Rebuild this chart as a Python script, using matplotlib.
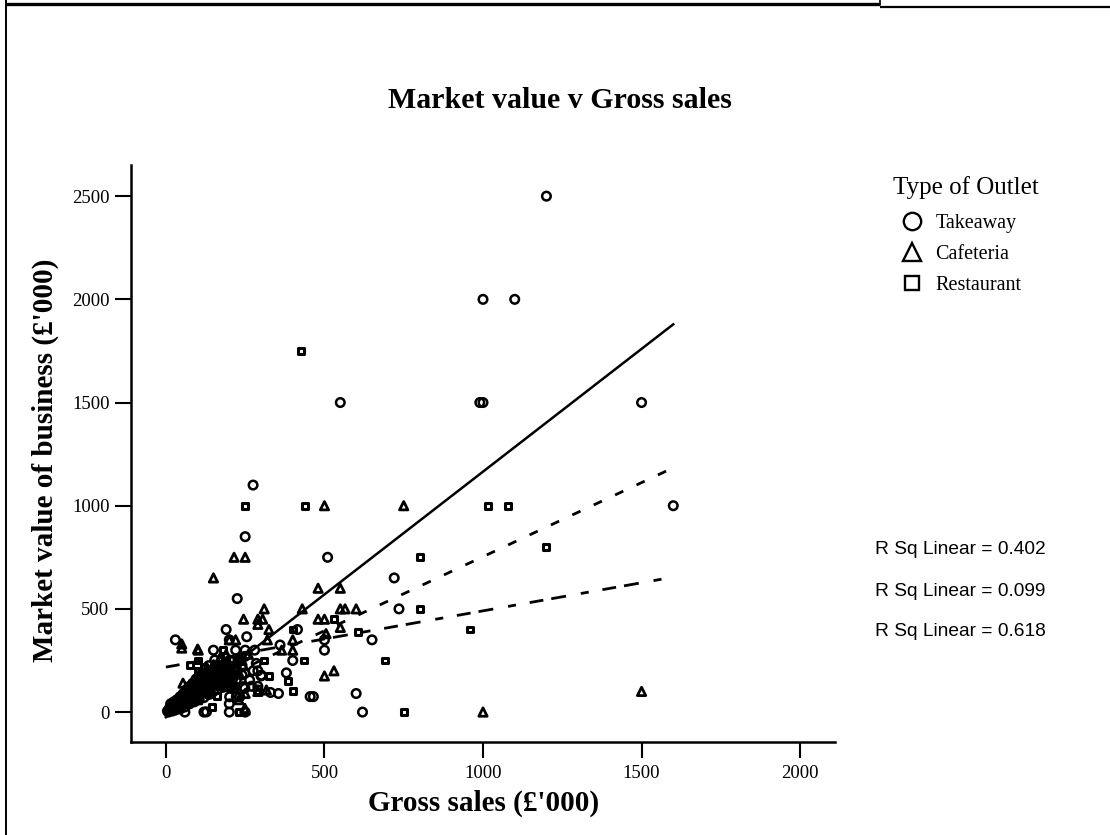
import numpy as np
import matplotlib
matplotlib.use('Agg')
from matplotlib import pyplot as plt
from matplotlib.lines import Line2D

plt.rcParams['font.family'] = ['Liberation Serif', 'DejaVu Serif']
plt.rcParams['lines.scale_dashes'] = False

# gross sales (x) and market value (y), £'000, one pair of lists per outlet type
takeaway_x = [1200, 1000, 1100, 550, 990, 1000, 1500, 1600, 275, 250, 510, 720, 225, 735, 415,
              190, 255, 200, 30, 150, 220, 250, 280, 360, 500, 500, 650, 400, 380, 275,
              290, 300, 270, 290, 330, 355, 455, 465, 600, 620, 60, 120, 200, 250, 200,
              154, 160, 201, 233, 128, 170, 97, 222, 264, 249, 201, 243, 212, 249, 290,
              201, 222, 233, 128, 285, 301,
              5, 8, 10, 12, 15, 18, 20, 20, 22, 25, 28, 30, 32, 35, 38, 40, 42, 45, 48, 50,
              52, 55, 58, 60, 62, 65, 68, 70, 72, 75, 78, 80, 85, 88, 90, 95, 100, 105, 110,
              115, 120, 125, 130, 135, 140, 145, 150, 155, 160, 165, 170, 175, 180, 190, 200,
              210, 220, 230, 240, 250,
              15, 25, 35, 45, 55, 65, 75, 85, 95, 105, 115, 125, 135, 30, 45, 60, 75, 90,
              105, 120, 135, 150, 165, 180, 195, 210, 225, 240, 190, 175, 160, 145, 130,
              115, 100, 85, 70, 55, 40]
takeaway_y = [2500, 2000, 2000, 1500, 1500, 1500, 1500, 1000, 1100, 850, 750, 650, 550, 500, 400,
              400, 365, 350, 350, 300, 300, 300, 300, 325, 350, 300, 350, 250, 190, 200,
              200, 175, 125, 125, 95, 90, 75, 75, 90, 0, 0, 0, 0, 0, 40,
              252, 203, 252, 252, 188, 195, 155, 155, 155, 188, 123, 123, 131, 115, 107,
              74, 74, 74, 1, 236, 179,
              5, 0, 15, 10, 20, 12, 25, 5, 30, 18, 35, 22, 40, 28, 45, 30, 50, 38, 60, 45,
              35, 65, 50, 75, 55, 80, 60, 90, 70, 100, 80, 110, 90, 120, 75, 130, 110, 140, 120,
              150, 100, 160, 140, 175, 120, 190, 160, 200, 130, 210, 180, 225, 150, 240, 200,
              250, 180, 260, 220, 270,
              40, 50, 60, 75, 90, 110, 125, 140, 160, 175, 190, 210, 225, 10, 15, 25, 40, 50,
              60, 70, 85, 100, 110, 120, 140, 160, 200, 180, 180, 160, 150, 130, 110,
              95, 80, 65, 55, 40, 25]

cafeteria_x = [500, 750, 215, 250, 150, 480, 550, 310, 430, 550, 565, 600, 245, 290, 305,
               290, 480, 500, 550, 325, 505, 400, 200, 220, 50, 50, 100, 320, 365, 400,
               500, 530, 290, 1500, 1000, 250, 102, 243, 317, 249, 54,
               20, 40, 60, 80, 100, 120, 140, 160, 180, 200, 220, 60, 90, 110, 130, 150,
               170, 190, 240, 260, 200, 230, 250, 215, 230,
               30, 70, 110, 150, 190, 100, 140, 180, 160, 210]
cafeteria_y = [1000, 1000, 750, 750, 650, 600, 600, 500, 500, 500, 500, 500, 450, 450, 450,
               425, 450, 450, 410, 400, 380, 350, 350, 350, 330, 310, 305, 350, 300, 300,
               175, 200, 100, 100, 0, 10, 300, 228, 107, 18, 140,
               20, 40, 50, 90, 100, 130, 150, 170, 200, 220, 240, 100, 140, 170, 200, 230,
               260, 280, 250, 280, 150, 190, 90, 120, 60,
               50, 120, 150, 190, 230, 60, 90, 130, 210, 200]

restaurant_x = [425, 250, 440, 1015, 1080, 800, 1200, 800, 960, 750, 530, 400, 605, 180, 310,
                435, 690, 325, 385, 400, 145, 230, 75, 100,
                10, 30, 50, 70, 90, 110, 130, 150, 170, 190, 210, 230, 100, 120, 80, 140,
                160, 200, 45, 65,
                20, 40, 60, 85, 105, 125, 145, 165, 100, 130, 170, 190]
restaurant_y = [1750, 1000, 1000, 1000, 1000, 750, 800, 500, 400, 0, 450, 400, 390, 300, 250,
                250, 250, 175, 150, 100, 25, 0, 230, 250,
                10, 30, 60, 80, 100, 130, 150, 170, 190, 210, 230, 250, 200, 220, 50, 100,
                80, 120, 20, 40,
                35, 70, 90, 120, 150, 170, 200, 220, 70, 90, 140, 160]

outlets = ['Takeaway', 'Cafeteria', 'Restaurant']
# fitted lines: intercept, slope, R squared
fit_intercept = [-25, 218, 35]
fit_slope = [1.19, 0.2725, 0.718]
fit_rsq = [0.402, 0.099, 0.618]

W, H = 1110, 835
fig = plt.figure(figsize=(W / 100, H / 100), dpi=100)

def fx(px):
    return px / W

def fy(py):
    return 1 - py / H

# outer frame lines
for (x0, y0, x1, y1, lw) in [(5, 4, 880, 4, 2.4), (880, 0, 880, 5, 1.2),
                             (880, 7, 1110, 7, 1.6), (6, 0, 6, 835, 1.4)]:
    fig.add_artist(Line2D([fx(x0), fx(x1)], [fy(y0), fy(y1)], transform=fig.transFigure,
                          color='black', lw=lw, solid_capstyle='butt'))

ax = fig.add_axes([fx(131), fy(742), fx(835) - fx(131), fy(165) - fy(742)])
ax.set_xlim(-110, 2110)
ax.set_ylim(-145, 2651)
ax.set_xticks([0, 500, 1000, 1500, 2000])
ax.set_yticks([0, 500, 1000, 1500, 2000, 2500])
for s in ['top', 'right']:
    ax.spines[s].set_visible(False)
for s in ['left', 'bottom']:
    ax.spines[s].set_linewidth(1.8)
ax.tick_params(direction='out', length=11.5, width=1.5, labelsize=13.5, pad=4)
ax.tick_params(axis='x', pad=5)

ax.scatter(takeaway_x, takeaway_y, marker='o', s=38, facecolors='none',
           edgecolors='black', linewidths=1.8, zorder=3)
ax.scatter(cafeteria_x, cafeteria_y, marker='^', s=36, facecolors='none',
           edgecolors='black', linewidths=2.0, zorder=3)
ax.scatter(restaurant_x, restaurant_y, marker='s', s=18, facecolors='none',
           edgecolors='black', linewidths=2.2, zorder=3)

all_x = np.array(takeaway_x + cafeteria_x + restaurant_x)
xs = np.array([0, all_x.max()])
dash_styles = [None, (0, (10, 5.8, 10.8, 10.8, 5.8, 10)), (0, (6.5, 10.5))]
widths = [1.8, 2.0, 2.0]
for b0, b1, ds, lw in zip(fit_intercept, fit_slope, dash_styles, widths):
    line, = ax.plot(xs, b0 + b1 * xs, color='black', lw=lw, zorder=4)
    if ds is not None:
        line.set_linestyle(ds)

fig.text(fx(560), fy(100), 'Market value v Gross sales', ha='center', va='center',
         fontsize=21.5, fontweight='bold')
fig.text(fx(484), fy(803), "Gross sales (\u00a3'000)", ha='center', va='center',
         fontsize=21, fontweight='bold')
fig.text(fx(45), fy(460), "Market value of business (\u00a3'000)", ha='center', va='center',
         fontsize=21, fontweight='bold', rotation=90)

for i, r in enumerate(fit_rsq):
    fig.text(fx(875), fy(550 + 41 * i), 'R Sq Linear = %.3f' % r, ha='left', va='center',
             fontsize=13.8, family=['Liberation Sans', 'DejaVu Sans'])

fig.text(fx(893), fy(188), 'Type of Outlet', ha='left', va='center', fontsize=18)
handles = [Line2D([], [], ls='none', marker='o', ms=12.5, mfc='none', mec='black', mew=1.7),
           Line2D([], [], ls='none', marker='^', ms=13, mfc='none', mec='black', mew=1.7),
           Line2D([], [], ls='none', marker='s', ms=10, mfc='none', mec='black', mew=1.7)]
fig.legend(handles, outlets, loc='upper left', bbox_to_anchor=(fx(900), fy(214)),
           frameon=False, fontsize=14.5, borderpad=0, borderaxespad=0, handlelength=1.2,
           handletextpad=0.55, labelspacing=0.6)

fig.savefig('out.png', dpi=100)
